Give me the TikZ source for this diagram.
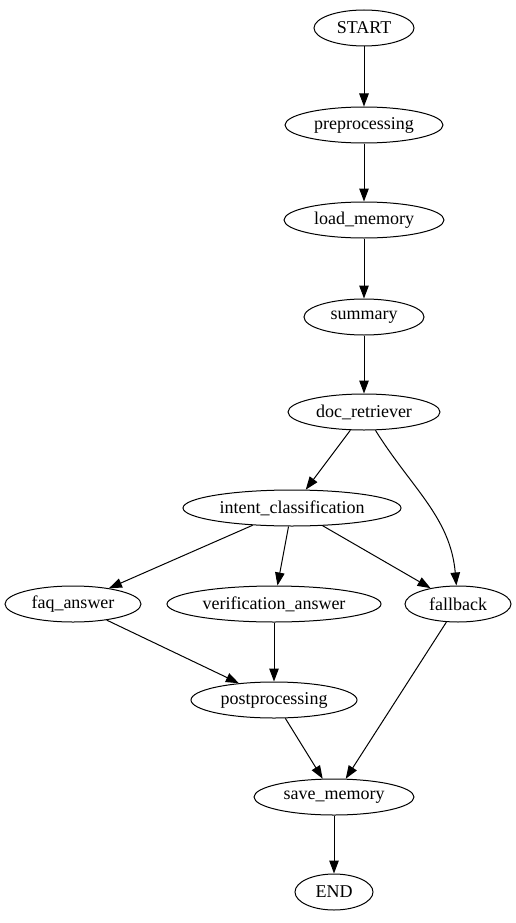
\documentclass[tikz,border=0pt]{standalone}
\usepackage{fontspec}
\setmainfont{Liberation Serif}
\usetikzlibrary{shapes.geometric,arrows.meta}
\begin{document}
\begin{tikzpicture}[x=1pt,y=-1pt,
  nd/.style={draw,ellipse,line width=1pt,inner sep=0pt,minimum height=36pt,font=\fontsize{18}{20}\selectfont},
  ar/.style={draw,line width=1pt,-{Triangle[length=13pt,width=9.5pt]}}]
\useasboundingbox (0,0) rectangle (515,923);
\node[nd,minimum width=100pt] (start) at (364,28) {START};
\node[nd,minimum width=158pt] (pre) at (364,125) {preprocessing};
\node[nd,minimum width=160pt] (lm) at (364,220) {load\_memory};
\node[nd,minimum width=120pt] (sum) at (364,317) {summary};
\node[nd,minimum width=152pt] (dr) at (364,412) {doc\_retriever};
\node[nd,minimum width=218pt] (ic) at (292,508) {intent\_classification};
\node[nd,minimum width=136pt] (faq) at (73,604) {faq\_answer};
\node[nd,minimum width=214pt] (va) at (274,604) {verification\_answer};
\node[nd,minimum width=106pt] (fb) at (458,604) {fallback};
\node[nd,minimum width=166pt] (post) at (274,700) {postprocessing};
\node[nd,minimum width=160pt] (sm) at (334,797) {save\_memory};
\node[nd,minimum width=78pt] (end) at (334,892) {END};
\path[ar] (start) -- (pre);
\path[ar] (pre) -- (lm);
\path[ar] (lm) -- (sum);
\path[ar] (sum) -- (dr);
\path[ar] (dr) -- (ic);
\path[ar] (dr) to[out=-58,in=95] (fb);
\path[ar] (ic) -- (faq);
\path[ar] (ic) -- (va);
\path[ar] (ic) -- (fb);
\path[ar] (faq) -- (post);
\path[ar] (va) -- (post);
\path[ar] (post) -- (sm);
\path[ar] (fb) -- (sm);
\path[ar] (sm) -- (end);
\end{tikzpicture}
\end{document}
